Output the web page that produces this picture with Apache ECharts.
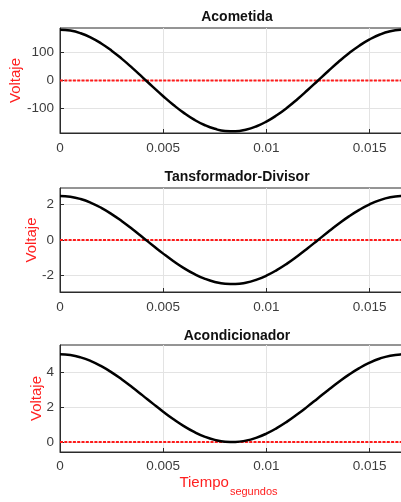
<!DOCTYPE html>
<html>
<head>
<meta charset="utf-8">
<script src="https://cdn.jsdelivr.net/npm/echarts@6/dist/echarts.min.js"></script>
<style>
  html, body { margin: 0; padding: 0; background: #fff; }
  #chart { width: 401px; height: 502px; }
</style>
</head>
<body>
<div id="chart"></div>
<script>
// One mains cycle (60 Hz) sampled every 0.5 ms
const time = [0, 0.0005, 0.001, 0.0015, 0.002, 0.0025, 0.003, 0.0035, 0.004, 0.0045,
  0.005, 0.0055, 0.006, 0.0065, 0.007, 0.0075, 0.008, 0.0085, 0.009, 0.0095,
  0.01, 0.0105, 0.011, 0.0115, 0.012, 0.0125, 0.013, 0.0135, 0.014, 0.0145,
  0.015, 0.0155, 0.016, 0.0165, 0.016667];

// Service entrance voltage (V)
const acometida = [180, 176.8, 167.4, 152.0, 131.2, 105.8, 76.6, 44.8, 11.3, -22.6,
  -55.6, -86.7, -114.7, -138.7, -157.7, -171.2, -178.6, -179.6, -174.3, -162.9,
  -145.6, -123.2, -96.4, -66.3, -33.7, 0, 33.7, 66.3, 96.4, 123.2,
  145.6, 162.9, 174.3, 179.6, 180];

// Transformer + divider output (V)
const divisor = [2.5, 2.456, 2.325, 2.111, 1.823, 1.470, 1.065, 0.622, 0.157, -0.313,
  -0.773, -1.205, -1.594, -1.926, -2.191, -2.378, -2.480, -2.495, -2.422, -2.262,
  -2.023, -1.711, -1.340, -0.920, -0.469, 0, 0.469, 0.920, 1.340, 1.711,
  2.023, 2.262, 2.422, 2.495, 2.5];

// Conditioned signal, shifted into 0..5 V
const acondicionador = [5, 4.956, 4.825, 4.611, 4.323, 3.970, 3.565, 3.122, 2.657, 2.187,
  1.727, 1.295, 0.906, 0.574, 0.309, 0.122, 0.020, 0.005, 0.078, 0.238,
  0.477, 0.789, 1.160, 1.580, 2.031, 2.5, 2.969, 3.420, 3.840, 4.211,
  4.523, 4.762, 4.922, 4.995, 5];

// Zero reference level
const zeroLevel = [0, 0];

const titles = ['Acometida', 'Tansformador-Divisor', 'Acondicionador'];
const xTicks = [0, 0.005, 0.01, 0.015];
const yTicks = [[-100, 0, 100], [-2, 0, 2], [0, 2, 4]];
const yLimits = [[-186, 186], [-2.95, 2.95], [-0.57, 5.53]];
const signals = [acometida, divisor, acondicionador];

const FONT = 'Liberation Sans, Arial, Helvetica, sans-serif';
const gridTops = [28, 188, 345];
const gridHeights = [105, 104, 107];
const titleTops = [5, 165, 324];
const yNameGaps = [37, 21, 16];
const xLabelMargins = [8, 8, 7];

const grids = [], xAxes = [], yAxes = [], series = [], titleList = [];

for (let i = 0; i < 3; i++) {
  grids.push({
    left: 60, top: gridTops[i], width: 344, height: gridHeights[i],
    containLabel: false, outerBoundsMode: 'none',
    show: true, borderColor: '#2b2b2b', borderWidth: 1, backgroundColor: 'transparent'
  });
  titleList.push({
    text: titles[i], left: 232, top: titleTops[i], textAlign: 'center',
    textStyle: { fontFamily: FONT, fontSize: 14, fontWeight: 'bold', color: '#111' }
  });
  const xa = {
    type: 'value', gridIndex: i, min: time[0], max: time[time.length - 1],
    axisLine: { show: true, onZero: false, lineStyle: { color: '#2b2b2b', width: 1 } },
    axisTick: { show: true, inside: true, length: 4, customValues: xTicks, lineStyle: { color: '#2b2b2b' } },
    axisLabel: { customValues: xTicks, margin: xLabelMargins[i], color: '#3c3c3c', fontFamily: FONT, fontSize: 13.5 },
    splitLine: { show: true, lineStyle: { color: '#e3e3e3', width: 1 } }
  };
  if (i === 2) {
    xa.name = '{a|Tiempo}{b|segundos}';
    xa.nameLocation = 'middle';
    xa.nameGap = 23;
    xa.nameMoveOverlap = false;
    xa.nameTextStyle = {
      rich: {
        a: { fontFamily: FONT, fontSize: 15, color: '#ff2020', padding: [0, 1, 7, 0] },
        b: { fontFamily: FONT, fontSize: 11, color: '#ff2020', verticalAlign: 'bottom', padding: [0, 7, 0, 0] }
      }
    };
  }
  xAxes.push(xa);
  yAxes.push({
    type: 'value', gridIndex: i, min: yLimits[i][0], max: yLimits[i][1],
    name: 'Voltaje', nameLocation: 'middle', nameGap: yNameGaps[i], nameMoveOverlap: false,
    nameTextStyle: { fontFamily: FONT, fontSize: 15, color: '#ff2020' },
    axisLine: { show: true, onZero: false, lineStyle: { color: '#2b2b2b', width: 1 } },
    axisTick: { show: true, inside: true, length: 4, customValues: yTicks[i], lineStyle: { color: '#2b2b2b' } },
    axisLabel: { customValues: yTicks[i], margin: 6, color: '#3c3c3c', fontFamily: FONT, fontSize: 13.5 },
    splitLine: { show: true, lineStyle: { color: '#e3e3e3', width: 1 } }
  });
  series.push({
    type: 'line', xAxisIndex: i, yAxisIndex: i, silent: true,
    data: [[time[0], zeroLevel[0]], [time[time.length - 1], zeroLevel[1]]],
    showSymbol: false, symbol: 'none',
    lineStyle: { color: '#ff1a1a', width: 2.2, type: [3, 1.3] }, z: 3
  });
  series.push({
    type: 'line', xAxisIndex: i, yAxisIndex: i, silent: true,
    data: time.map((t, k) => [t, signals[i][k]]),
    smooth: true, showSymbol: false, symbol: 'none',
    lineStyle: { color: '#000', width: 2.5 }, z: 4
  });
}

const chart = echarts.init(document.getElementById('chart'), null, { renderer: 'canvas' });
chart.setOption({
  animation: false,
  backgroundColor: '#fff',
  title: titleList,
  grid: grids,
  xAxis: xAxes,
  yAxis: yAxes,
  series: series
});
</script>
</body>
</html>
